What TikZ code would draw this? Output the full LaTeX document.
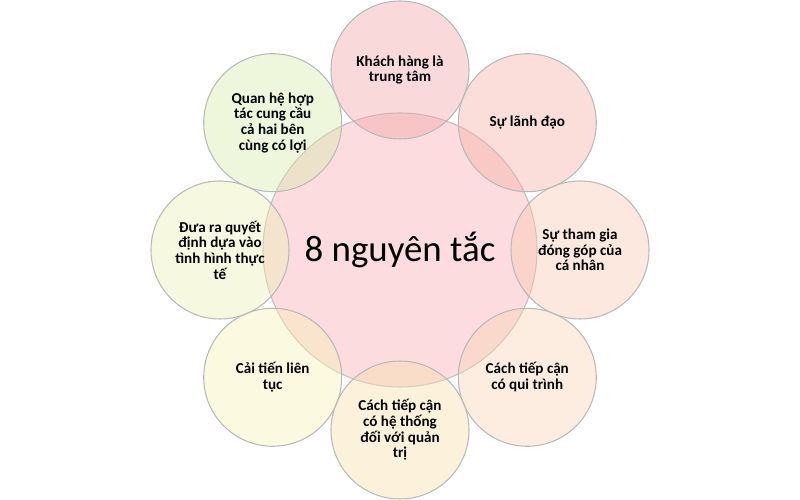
\documentclass[tikz,border=0pt]{standalone}
\usepackage{fontspec}
\setmainfont{Carlito}
\definecolor{hongtam}{RGB}{247,172,176}
\definecolor{hong}{RGB}{243,165,168}
\definecolor{hongcam}{RGB}{245,176,164}
\definecolor{cam}{RGB}{249,200,176}
\definecolor{camnhat}{RGB}{249,212,180}
\definecolor{kem}{RGB}{249,224,172}
\definecolor{vang}{RGB}{249,240,184}
\definecolor{vangluc}{RGB}{235,238,182}
\definecolor{luc}{RGB}{214,234,172}

\begin{document}
\begin{tikzpicture}[
    vong/.style={circle,draw=gray!55,line width=0.6pt,fill opacity=0.42,text opacity=1,
      minimum size=2.76cm,inner sep=0pt,align=center,
      font=\bfseries\fontsize{8.6}{8.9}\selectfont},
    tam/.style={circle,draw=gray!50,line width=0.6pt,fill=hongtam,fill opacity=0.42,
      text opacity=1,minimum size=5.48cm,inner sep=0pt,font=\fontsize{21}{25}\selectfont}]
      \useasboundingbox (-8,-5) rectangle (8,5);
      \node[tam] (tam) at (0,0) {8 nguyên tắc};
      \node[vong,fill=hong] (khach) at (90:3.6) {Khách hàng là\\trung tâm};
      \node[vong,fill=hongcam] (lanhdao) at (45:3.6) {Sự lãnh đạo};
      \node[vong,fill=cam] (thamgia) at (0:3.6) {Sự tham gia\\đóng góp của\\cá nhân};
      \node[vong,fill=camnhat] (quitrinh) at (-45:3.6) {Cách tiếp cận\\có qui trình};
      \node[vong,fill=kem] (hethong) at (-90:3.6) {Cách tiếp cận\\có hệ thống\\đối với quản\\trị};
      \node[vong,fill=vang] (caitien) at (-135:3.6) {Cải tiến liên\\tục};
      \node[vong,fill=vangluc] (quyetdinh) at (180:3.6) {Đưa ra quyết\\định dựa vào\\tình hình thực\\tế};
      \node[vong,fill=luc] (hoptac) at (135:3.6) {Quan hệ hợp\\tác cung cầu\\cả hai bên\\cùng có lợi};
    \end{tikzpicture}
\end{document}
